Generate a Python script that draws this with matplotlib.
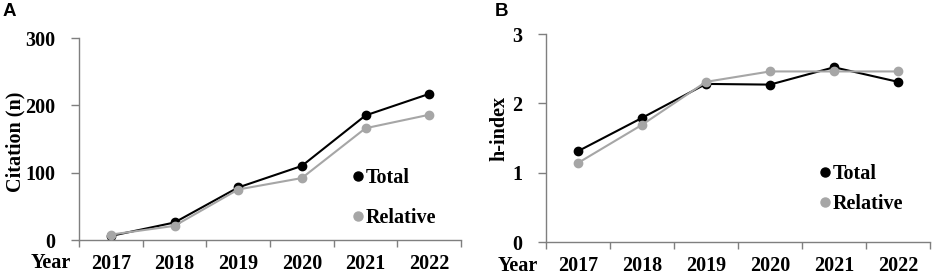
import matplotlib
matplotlib.use("Agg")
import matplotlib.pyplot as plt
from matplotlib.lines import Line2D

years = ["2017", "2018", "2019", "2020", "2021", "2022"]
citation_total = [6, 26, 78, 110, 185, 217]
citation_relative = [8, 21, 75, 92, 166, 186]
hindex_total = [1.31, 1.79, 2.28, 2.27, 2.52, 2.31]
hindex_relative = [1.14, 1.69, 2.31, 2.46, 2.46, 2.46]

BLACK = "#000000"
GRAY = "#a6a6a6"
SPINE = "#7f7f7f"
SERIF = "Liberation Serif"

fig = plt.figure(figsize=(9.35, 2.8), dpi=100)
W, H = 935, 280


def add_ax(left, right, top, bottom):
    return fig.add_axes([left / W, 1 - bottom / H, (right - left) / W, (bottom - top) / H])


def style_panel(ax, ymax, ystep, ylabel, label_xy, legend_x, legend_y, spacing):
    n = len(years)
    ax.set_xlim(0, n)
    ax.set_ylim(0, ymax)
    ax.set_yticks([i * ystep for i in range(int(round(ymax / ystep)) + 1)])
    ax.set_xticks([i + 0.5 for i in range(n)])
    ax.set_xticklabels(years)
    ax.set_xticks(range(n + 1), minor=True)
    ax.tick_params(axis="x", which="major", length=0, pad=10)
    ax.tick_params(axis="x", which="minor", length=5, color=SPINE, width=1)
    ax.tick_params(axis="y", length=6, color=SPINE, width=1, pad=11)
    for s in ["top", "right"]:
        ax.spines[s].set_visible(False)
    for s in ["left", "bottom"]:
        ax.spines[s].set_color(SPINE)
        ax.spines[s].set_linewidth(1)
    for lab in ax.get_xticklabels() + ax.get_yticklabels():
        lab.set_fontfamily(SERIF)
        lab.set_fontweight("bold")
        lab.set_fontsize(14.5)
    ax.set_ylabel(ylabel, fontfamily=SERIF, fontweight="bold", fontsize=14.5)
    ax.yaxis.set_label_coords(*label_xy)
    ax.text(-0.021, -0.115, "Year", transform=ax.transAxes, ha="right", va="center",
            fontfamily=SERIF, fontweight="bold", fontsize=14.5)
    handles = [
        Line2D([], [], marker="o", color=BLACK, linestyle="none", markersize=6.5),
        Line2D([], [], marker="o", color=GRAY, linestyle="none", markersize=6.5),
    ]
    ax.legend(handles, ["Total", "Relative"], loc="upper left", bbox_to_anchor=(legend_x, legend_y),
              frameon=False, handlelength=0.4, handletextpad=0.15, labelspacing=spacing,
              borderaxespad=0, prop={"family": SERIF, "weight": "bold", "size": 14.5})


x = [i + 0.5 for i in range(len(years))]

# Panel A: citations
ax1 = add_ax(79, 461, 38, 240)
ax1.plot(x, citation_relative, color=GRAY, marker="o", markersize=6, linewidth=1.5, zorder=3)
ax1.plot(x, citation_total, color=BLACK, marker="o", markersize=6, linewidth=1.5, zorder=2)
style_panel(ax1, 300, 100, "Citation (n)", (-0.14, 0.485), 0.70, 0.395, 1.0)
fig.text(3 / W, 1 - 11 / H, "A", fontfamily="Liberation Sans", fontweight="bold",
         fontsize=13.5, ha="left", va="center")

# Panel B: h-index
ax2 = add_ax(546, 930, 34, 242)
ax2.plot(x, hindex_total, color=BLACK, marker="o", markersize=6, linewidth=1.5, zorder=2)
ax2.plot(x, hindex_relative, color=GRAY, marker="o", markersize=6, linewidth=1.5, zorder=3)
style_panel(ax2, 3, 1, "h-index", (-0.095, 0.545), 0.696, 0.414, 0.5)
fig.text(495 / W, 1 - 12 / H, "B", fontfamily="Liberation Sans", fontweight="bold",
         fontsize=13.5, ha="left", va="center")

fig.savefig("out.png", dpi=100)
